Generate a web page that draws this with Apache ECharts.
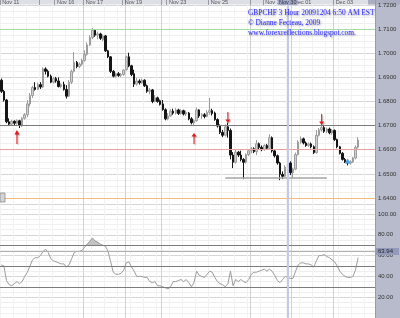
<!DOCTYPE html>
<html><head><meta charset="utf-8">
<script src="https://cdn.jsdelivr.net/npm/echarts@6/dist/echarts.min.js"></script>
<style>html,body{margin:0;padding:0;background:#fff}#c{width:400px;height:318px}</style>
</head><body><div id="c"></div>
<script>
// ---------- data ----------
const barCount = 144;
const categories = Array.from({length: barCount}, (_, i) => 'b' + i);
const dateLabels = ['Nov 11','Nov 16','Nov 17','Nov 19','Nov 23','Nov 25','Nov 30','Dec 01','Dec 03'];
const dateLabelBars = [0, 21, 32, 47, 64, 80, 101, 112, 128];
const gridBars = [15, 32, 48, 62, 80, 96, 112, 128];
const priceTickLabels = [1.64, 1.65, 1.66, 1.67, 1.68, 1.69, 1.70, 1.71, 1.72];
const rsiTickLabels = [20, 40, 60, 80, 100];
// [open, close, low, high]
const candles = [
[1.6888,1.6842,1.6835,1.6895],[1.6842,1.6806,1.6800,1.6848],[1.6806,1.6716,1.6710,1.6810],[1.6716,1.6706,1.6698,1.6730],
[1.6706,1.6718,1.6700,1.6724],[1.6718,1.6710,1.6702,1.6722],[1.6710,1.6720,1.6704,1.6726],[1.6720,1.6702,1.6690,1.6724],
[1.6702,1.6730,1.6694,1.6735],[1.6730,1.6745,1.6725,1.6752],[1.6745,1.6790,1.6735,1.6806],[1.6790,1.6825,1.6780,1.6835],
[1.6825,1.6858,1.6815,1.6865],[1.6858,1.6850,1.6845,1.6880],[1.6850,1.6870,1.6847,1.6878],[1.6870,1.6860,1.6852,1.6880],
[1.6860,1.6935,1.6855,1.6942],[1.6935,1.6925,1.6912,1.6942],[1.6925,1.6905,1.6900,1.6932],[1.6905,1.6880,1.6876,1.6912],
[1.6880,1.6895,1.6875,1.6902],[1.6895,1.6885,1.6878,1.6902],[1.6885,1.6862,1.6858,1.6900],[1.6862,1.6870,1.6855,1.6876],
[1.6870,1.6850,1.6845,1.6882],[1.6850,1.6822,1.6812,1.6868],[1.6822,1.6880,1.6818,1.6889],[1.6880,1.6925,1.6872,1.6932],
[1.6925,1.6962,1.6920,1.7005],[1.6962,1.6945,1.6938,1.6968],[1.6945,1.6955,1.6938,1.6962],[1.6955,1.6970,1.6948,1.6978],
[1.6970,1.6995,1.6965,1.7012],[1.6995,1.7035,1.6990,1.7045],[1.7035,1.7065,1.7030,1.7075],[1.7065,1.7095,1.7058,1.7105],
[1.7095,1.7075,1.7068,1.7098],[1.7075,1.7080,1.7058,1.7090],[1.7080,1.7062,1.7055,1.7085],[1.7056,1.7072,1.7050,1.7078],
[1.7072,1.7010,1.7005,1.7076],[1.7010,1.6985,1.6980,1.7014],[1.6985,1.6925,1.6918,1.6988],[1.6925,1.6905,1.6900,1.6930],
[1.6905,1.6915,1.6900,1.6920],[1.6915,1.6908,1.6902,1.6922],[1.6908,1.6912,1.6901,1.6918],[1.6912,1.6930,1.6906,1.6934],
[1.6932,1.6985,1.6928,1.6990],[1.6985,1.6948,1.6942,1.7002],[1.6948,1.6912,1.6905,1.6952],[1.6915,1.6872,1.6860,1.6932],
[1.6872,1.6885,1.6866,1.6897],[1.6885,1.6878,1.6870,1.6892],[1.6878,1.6888,1.6872,1.6895],[1.6888,1.6865,1.6860,1.6892],
[1.6865,1.6842,1.6836,1.6870],[1.6842,1.6848,1.6830,1.6856],[1.6848,1.6800,1.6793,1.6852],[1.6800,1.6815,1.6796,1.6827],
[1.6815,1.6800,1.6795,1.6820],[1.6803,1.6788,1.6783,1.6808],[1.6790,1.6766,1.6762,1.6806],[1.6766,1.6728,1.6722,1.6772],
[1.6728,1.6740,1.6722,1.6752],[1.6740,1.6760,1.6736,1.6768],[1.6760,1.6752,1.6745,1.6770],[1.6752,1.6765,1.6746,1.6772],
[1.6765,1.6750,1.6744,1.6770],[1.6750,1.6762,1.6745,1.6768],[1.6762,1.6748,1.6742,1.6766],[1.6748,1.6755,1.6740,1.6762],
[1.6752,1.6728,1.6722,1.6756],[1.6728,1.6712,1.6705,1.6735],[1.6712,1.6720,1.6698,1.6725],[1.6720,1.6765,1.6716,1.6775],
[1.6765,1.6740,1.6732,1.6768],[1.6740,1.6745,1.6728,1.6752],[1.6745,1.6738,1.6730,1.6752],[1.6738,1.6755,1.6734,1.6764],
[1.6755,1.6762,1.6745,1.6815],[1.6762,1.6750,1.6742,1.6770],[1.6752,1.6725,1.6720,1.6758],[1.6725,1.6698,1.6692,1.6730],
[1.6698,1.6672,1.6665,1.6705],[1.6672,1.6660,1.6652,1.6682],[1.6660,1.6695,1.6655,1.6705],[1.6695,1.6680,1.6650,1.6712],
[1.6680,1.6578,1.6560,1.6688],[1.6578,1.6548,1.6524,1.6590],[1.6548,1.6590,1.6542,1.6600],[1.6590,1.6578,1.6570,1.6595],
[1.6578,1.6560,1.6552,1.6596],[1.6560,1.6548,1.6478,1.6565],[1.6548,1.6580,1.6542,1.6585],[1.6580,1.6596,1.6574,1.6602],
[1.6596,1.6604,1.6585,1.6612],[1.6604,1.6592,1.6586,1.6610],[1.6592,1.6625,1.6578,1.6640],[1.6625,1.6610,1.6602,1.6630],
[1.6610,1.6600,1.6594,1.6618],[1.6600,1.6618,1.6596,1.6622],[1.6618,1.6606,1.6600,1.6624],[1.6606,1.6650,1.6600,1.6664],
[1.6650,1.6595,1.6588,1.6655],[1.6595,1.6575,1.6568,1.6600],[1.6575,1.6545,1.6538,1.6580],[1.6545,1.6498,1.6474,1.6550],
[1.6498,1.6490,1.6478,1.6510],[1.6490,1.6528,1.6486,1.6535],[1.6528,1.6545,1.6522,1.6555],[1.6545,1.6505,1.6495,1.6552],
[1.6505,1.6520,1.6480,1.6526],[1.6520,1.6580,1.6515,1.6588],[1.6580,1.6632,1.6576,1.6640],[1.6632,1.6645,1.6625,1.6655],
[1.6645,1.6628,1.6622,1.6650],[1.6628,1.6618,1.6612,1.6634],[1.6618,1.6624,1.6612,1.6630],[1.6624,1.6612,1.6606,1.6630],
[1.6612,1.6588,1.6582,1.6618],[1.6588,1.6660,1.6584,1.6682],[1.6660,1.6682,1.6655,1.6690],[1.6682,1.6692,1.6675,1.6706],
[1.6692,1.6676,1.6670,1.6698],[1.6676,1.6686,1.6668,1.6692],[1.6686,1.6670,1.6664,1.6692],[1.6670,1.6680,1.6662,1.6686],
[1.6680,1.6642,1.6636,1.6684],[1.6642,1.6612,1.6606,1.6646],[1.6612,1.6585,1.6580,1.6616],[1.6585,1.6560,1.6555,1.6590],
[1.6560,1.6550,1.6545,1.6566],[1.6550,1.6545,1.6535,1.6556],[1.6545,1.6550,1.6538,1.6556],[1.6550,1.6566,1.6545,1.6570],
[1.6566,1.6610,1.6560,1.6618],[1.6610,1.6640,1.6605,1.6652]
];
const rsi = [
51,50,36,32,31,33,35,33,35,40,44,50,56,58,58,60,64,66,63,57,55,54,53,52,52,49,51,57,63,64,
64,65,68,71,74,77,74,73,71,70,69,64,54,44,42,42,43,46,53,54,49,45,40,40,40,39,39,35,34,35,
31,31,30,29,28,30,35,35,36,37,35,37,34,30,34,45,41,40,39,42,45,44,39,35,33,32,30,33,45,31,
37,35,37,35,34,37,42,44,44,45,46,47,45,47,45,41,36,34,37,40,39,38,38,45,51,53,53,52,52,51,
49,55,60,60,61,59,58,56,54,50,45,42,40,39,39,40,46,58
];
const levelPrices = [1.7098, 1.6694, 1.6574, 1.6441];
const levelColors = ['#a6dca6', '#7a7a7a', '#e8a0a0', '#f4bb80'];
const supportBars = [86, 125];
const supportPrice = 1.6483;
const arrowBars = [6, 74, 87, 123];
const arrowPrices = [1.6682, 1.6669, 1.6711, 1.6702];
const arrowDirs = ['up', 'up', 'down', 'down'];
const markerBar = 133, markerPrice = 1.6553;
const cursorBar = 110, cursorLabel = 'Nov 30';
const rsiLevels = [70, 50, 30];
const rsiCurrent = 63.94;
const overbought = 70;
const titleLines = ['GBPCHF 3 Hour 20091204 6:50 AM EST', '\u00a9 Dianne Fecteau, 2009', 'www.forexreflections.blogspot.com.'];

// ---------- chart ----------
const upPath = 'path://M5,0L10,7L6,7L6,22L4,22L4,7L0,7Z';
const downPath = 'path://M4,0L6,0L6,15L10,15L5,22L0,15L4,15Z';
const tickBars = Array.from(new Set(gridBars.concat(dateLabelBars)));

const chart = echarts.init(document.getElementById('c'), null, {renderer: 'canvas'});
const gridBase = {left: 0, right: 25, containLabel: false, outerBoundsMode: 'none'};
const catAxis = (gi, extra) => Object.assign({
  type: 'category', gridIndex: gi, data: categories, boundaryGap: true,
  axisLine: {show: false}, axisTick: {show: false}, axisLabel: {show: false}
}, extra);

chart.setOption({
  animation: false,
  backgroundColor: '#ffffff',
  title: {
    text: titleLines.join('\n'), left: 248, top: 8, padding: 0,
    textStyle: {fontFamily: 'Liberation Serif', fontSize: 7.4, fontWeight: 'normal', color: '#2a2aff', lineHeight: 10,
      textShadowColor: 'rgba(20,20,60,0.45)', textShadowBlur: 2, textShadowOffsetX: 1, textShadowOffsetY: 1}
  },
  graphic: [
    {type: 'rect', z: -10, shape: {x: 375, y: 0, width: 25, height: 318}, style: {fill: '#b8bbcb'}},
    {type: 'rect', z: -10, shape: {x: 0, y: 0, width: 375, height: 4.5}, style: {fill: '#dedfe6'}},
    {type: 'rect', z: -10, shape: {x: 368, y: 0, width: 32, height: 4.5}, style: {fill: '#a9adbf'}},
    {type: 'rect', z: 10, shape: {x: 0, y: 193, width: 5, height: 9}, style: {fill: '#d4d4d8', stroke: '#8a8a8a', lineWidth: 0.8}}
  ],
  grid: [
    Object.assign({top: 5, height: 199}, gridBase),
    Object.assign({top: 204, height: 114}, gridBase)
  ],
  xAxis: [
    catAxis(0, {
      position: 'top',
      axisTick: {show: true, interval: (i) => tickBars.includes(i), length: 5, lineStyle: {color: '#9a9aa6'}},
      axisLabel: {show: true, interval: (i) => dateLabelBars.includes(i),
        formatter: (v, i) => dateLabels[dateLabelBars.indexOf(i)] || '',
        fontSize: 5.5, color: '#555', margin: 0, align: 'left', padding: [0, 0, 0, 1], fontFamily: 'Liberation Sans'},
      splitLine: {show: true, interval: (i) => gridBars.includes(i), lineStyle: {color: '#d2d2d2', width: 1}}
    }),
    catAxis(0, {splitLine: {show: true, interval: (i) => i % 5 === 0, lineStyle: {color: '#f2f2f2'}}}),
    catAxis(1, {position: 'top', axisLine: {show: true, lineStyle: {color: '#7e7e7e'}},
      splitLine: {show: true, interval: (i) => gridBars.includes(i), lineStyle: {color: '#d2d2d2'}}}),
    catAxis(1, {splitLine: {show: true, interval: (i) => i % 5 === 0, lineStyle: {color: '#f2f2f2'}}})
  ],
  yAxis: [
    {type: 'value', gridIndex: 0, position: 'right', min: 1.6375, max: 1.72, interval: 0.0025,
      axisLine: {show: true, lineStyle: {color: '#9a9aa4'}}, axisTick: {show: false},
      axisLabel: {fontSize: 6, color: '#333', margin: 3, fontFamily: 'Liberation Sans', hideOverlap: false,
        formatter: (v) => priceTickLabels.some(t => Math.abs(t - v) < 1e-6) ? v.toFixed(4) : ''},
      splitLine: {show: true, lineStyle: {color: ['#efefef', '#d6d6d6', '#efefef', '#efefef']}}},
    {type: 'value', gridIndex: 1, position: 'right', min: 0, max: 109.6, interval: 20,
      axisLine: {show: true, lineStyle: {color: '#9a9aa4'}}, axisTick: {show: false},
      axisLabel: {fontSize: 6, color: '#333', margin: 3, fontFamily: 'Liberation Sans', hideOverlap: false,
        showMinLabel: true, showMaxLabel: false,
        formatter: (v) => rsiTickLabels.some(t => Math.abs(t - v) < 1e-6) ? v.toFixed(2) : ''},
      splitLine: {show: true, lineStyle: {color: '#d6d6d6'}},
      minorTick: {show: false, splitNumber: 4},
      minorSplitLine: {show: true, lineStyle: {color: '#efefef'}}}
  ],
  series: [
    {
      type: 'candlestick', xAxisIndex: 0, yAxisIndex: 0, data: candles, barWidth: 2,
      itemStyle: {color: '#d0d0d0', color0: '#151515', borderColor: '#9c9c9c', borderColor0: '#151515', borderWidth: 1},
      markLine: {
        silent: true, symbol: ['none', 'none'], animation: false, label: {show: false},
        data: levelPrices.map((p, k) => ({yAxis: p, lineStyle: {color: levelColors[k], width: 1, type: 'solid'}}))
          .concat([
            [{coord: [categories[supportBars[0]], supportPrice], lineStyle: {color: '#a4a4a4', width: 1.5, type: 'solid'}},
             {coord: [categories[supportBars[1]], supportPrice]}],
            {xAxis: categories[cursorBar], lineStyle: {color: '#c4c8ec', width: 2, type: 'solid'},
             label: {show: true, position: 'end', formatter: cursorLabel, fontSize: 5.5, color: '#333',
               backgroundColor: '#a3a9cc', padding: [0, 1, 0, 1], distance: 0}}
          ])
      },
      markPoint: {
        silent: true, animation: false, label: {show: false},
        data: arrowBars.map((b, k) => ({
          coord: [categories[b], arrowPrices[k]],
          symbol: arrowDirs[k] === 'up' ? upPath : downPath,
          symbolSize: [5, k === 0 ? 14 : 11],
          symbolOffset: [0, arrowDirs[k] === 'up' ? '50%' : '-50%'],
          itemStyle: {color: '#e41c1c', shadowColor: 'rgba(0,0,0,0.3)', shadowBlur: 1, shadowOffsetX: 1, shadowOffsetY: 1}
        })).concat([{coord: [categories[markerBar], markerPrice], symbol: 'triangle', symbolSize: [6, 5],
          itemStyle: {color: '#4d9de6'}}])
      }
    },
    {
      type: 'line', xAxisIndex: 2, yAxisIndex: 1, data: rsi.map(() => overbought), stack: 'ob',
      symbol: 'none', lineStyle: {opacity: 0}, silent: true
    },
    {
      type: 'line', xAxisIndex: 2, yAxisIndex: 1, data: rsi.map(v => Math.max(v - overbought, 0)), stack: 'ob',
      symbol: 'none', lineStyle: {opacity: 0}, areaStyle: {color: '#c2c2c2', opacity: 1}, silent: true
    },
    {
      type: 'line', xAxisIndex: 2, yAxisIndex: 1, data: rsi, symbol: 'none',
      lineStyle: {color: '#9c9c9c', width: 1}, silent: true,
      markLine: {
        silent: true, symbol: ['none', 'none'], animation: false, label: {show: false},
        data: rsiLevels.map(v => ({yAxis: v, lineStyle: {color: '#7c7c7c', width: 1, type: 'solid'}}))
          .concat([
            {yAxis: rsiCurrent, lineStyle: {color: '#b0b0b0', width: 1, type: 'solid'},
             label: {show: true, position: 'end', formatter: rsiCurrent.toFixed(2), fontSize: 6, color: '#222',
               backgroundColor: '#9299bb', padding: [1, 6, 0, 3], distance: 0, fontFamily: 'Liberation Sans'}},
            {xAxis: categories[cursorBar], lineStyle: {color: '#c4c8ec', width: 2, type: 'solid'}}
          ])
      }
    }
  ]
});
</script></body></html>
